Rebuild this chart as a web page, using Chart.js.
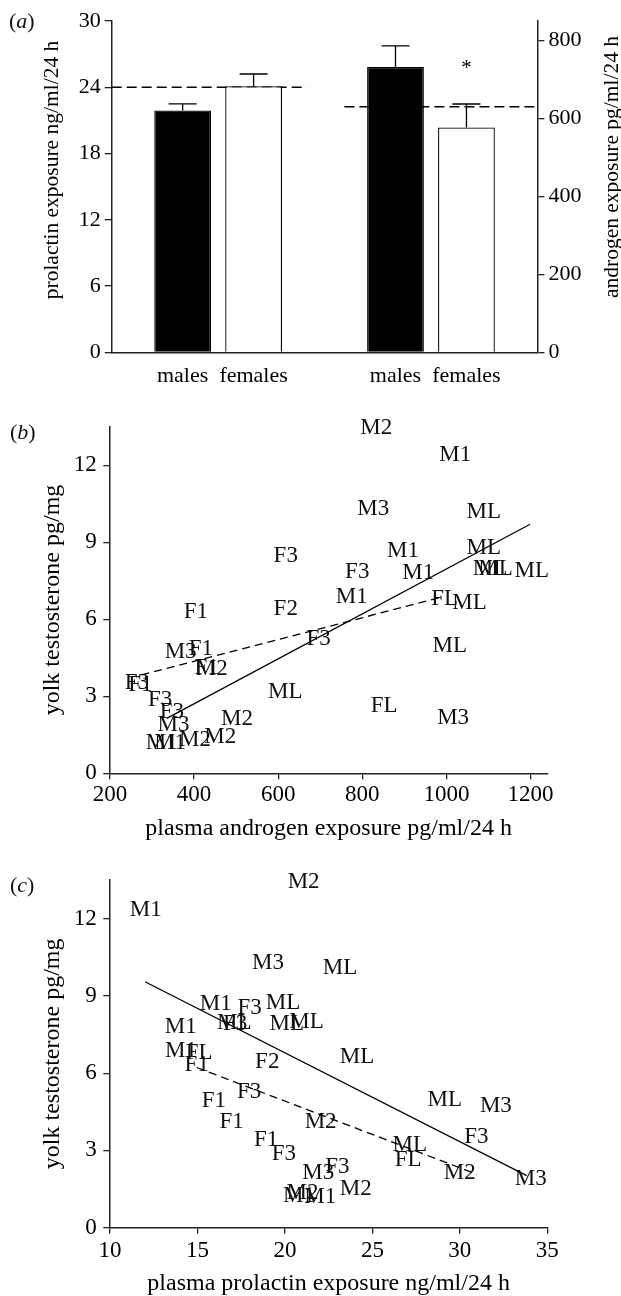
<!DOCTYPE html>
<html><head><meta charset="utf-8">
<script src="https://cdn.jsdelivr.net/npm/chart.js@4.4.1/dist/chart.umd.min.js"></script>
<style>
html,body{margin:0;padding:0;background:#fff;width:621px;height:1296px;overflow:hidden;position:relative;}
canvas{position:absolute;left:0;}
.pl{position:absolute;font-family:'Liberation Serif','Times New Roman',serif;font-size:22px;color:#111;line-height:1;white-space:nowrap;}
</style></head><body>
<canvas id="ca" width="621" height="400" style="top:0px"></canvas>
<canvas id="cb" width="621" height="450" style="top:400px"></canvas>
<canvas id="cc" width="621" height="446" style="top:850px"></canvas>
<div class="pl" style="left:9px;top:10px">(<i>a</i>)</div>
<div class="pl" style="left:10px;top:421px">(<i>b</i>)</div>
<div class="pl" style="left:10px;top:874px">(<i>c</i>)</div>
<script>
// ---------- Panel (a) data ----------
const aGroups = ['males', 'females', 'males', 'females'];
const aPos = [1, 2, 4, 5];
const prolactinMean = [21.9, 24.1];
const prolactinUpper = [22.5, 25.2];
const androgenMean = [732, 577];
const androgenUpper = [786, 637];
const prolactinRefX = [0, 2.75];
const prolactinRefY = [24, 24];
const androgenRefX = [3.28, 6];
const androgenRefY = [630, 630];
const prolactinTicks = [0, 6, 12, 18, 24, 30];
const androgenTicks = [0, 200, 400, 600, 800];
const starValue = [714];
const aLeftTitle = 'prolactin exposure ng/ml/24 h';
const aRightTitle = 'androgen exposure pg/ml/24 h';

// ---------- Panel (b) data ----------
const bLabels = ['M2','M1','M3','ML','M1','ML','F3','F3','M1','ML','ML','ML','M1','FL','ML','F2','F1','F3','ML','F1','M3','F1','M2','ML','F3','F1','F3','FL','F3','M3','M2','M3','M1','M1','M2','M2'];
const bX = [833,1021,826,1089,897,1089,618,788,933,1104,1117,1203,775,996,1055,618,404,696,1008,416,368,430,442,617,264,272,319,852,347,1016,502,351,323,343,402,462];
const bY = [13.44,12.40,10.30,10.16,8.66,8.77,8.48,7.86,7.79,7.95,7.95,7.90,6.86,6.79,6.62,6.39,6.30,5.22,4.96,4.85,4.74,4.10,4.08,3.18,3.51,3.45,2.86,2.62,2.40,2.14,2.10,1.88,1.17,1.17,1.30,1.43];
const bSolidX = [335, 1199];
const bSolidY = [2.14, 9.70];
const bDashX = [275, 984];
const bDashY = [3.83, 6.84];
const bXTicks = [200, 400, 600, 800, 1000, 1200];
const bXTitle = 'plasma androgen exposure pg/ml/24 h';

// ---------- Panel (c) data ----------
const cLabels = ['M2','M1','M3','ML','M1','F3','ML','ML','F3','ML','ML','M1','M1','FL','F1','F2','ML','F1','F3','F1','M2','F1','F3','M3','F3','M1','M2','M1','M2','ML','M3','F3','ML','FL','M2','M3'];
const cX = [21.07,12.04,19.03,23.15,16.05,17.98,19.89,17.10,17.15,20.11,21.24,14.05,14.06,15.10,14.96,18.99,24.12,15.94,17.95,16.95,22.04,18.93,19.94,21.90,23.00,20.80,21.00,22.02,24.05,29.14,32.06,30.95,27.14,27.04,30.00,34.05];
const cY = [13.43,12.35,10.28,10.10,8.67,8.54,8.73,7.95,7.90,7.93,8.00,7.81,6.86,6.80,6.31,6.44,6.64,4.93,5.27,4.11,4.11,3.39,2.88,2.13,2.37,1.25,1.36,1.19,1.49,4.95,4.72,3.53,3.21,2.63,2.11,1.88];
const cSolidX = [12.0, 33.82];
const cSolidY = [9.55, 2.02];
const cDashX = [14.96, 30.95];
const cDashY = [6.22, 2.08];
const cXTicks = [10, 15, 20, 25, 30, 35];
const cXTitle = 'plasma prolactin exposure ng/ml/24 h';

const yolkTicks = [0, 3, 6, 9, 12];
const yolkTitle = 'yolk testosterone pg/mg';

// ---------- common ----------
const FONT = "'Liberation Serif','Times New Roman',serif";
Chart.defaults.font.family = FONT;
Chart.defaults.color = '#000';
const AXIS = '#222';

const pts = (xs, ys) => xs.map((x, i) => ({x: x, y: ys[i]}));
const setTicks = arr => s => { s.ticks = arr.map(v => ({value: v})); };

const errorBars = {
  id: 'errorBars',
  afterDatasetsDraw(chart) {
    const ctx = chart.ctx;
    chart.data.datasets.forEach((ds, di) => {
      if (!ds.upper) return;
      const meta = chart.getDatasetMeta(di);
      const scale = chart.scales[ds.yAxisID];
      meta.data.forEach((el, i) => {
        const yTop = scale.getPixelForValue(ds.upper[i]);
        ctx.save();
        ctx.strokeStyle = '#000';
        ctx.lineWidth = 1.3;
        ctx.beginPath();
        ctx.moveTo(el.x, el.y);
        ctx.lineTo(el.x, yTop);
        ctx.moveTo(el.x - 14, yTop);
        ctx.lineTo(el.x + 14, yTop);
        ctx.stroke();
        ctx.restore();
      });
    });
  }
};

const aExtras = {
  id: 'aExtras',
  afterDraw(chart) {
    const ctx = chart.ctx;
    ctx.save();
    ctx.fillStyle = '#000';
    ctx.font = '21.5px ' + FONT;
    ctx.textAlign = 'center';
    ctx.textBaseline = 'middle';
    ctx.save(); ctx.translate(52, 170); ctx.rotate(-Math.PI / 2); ctx.fillText(aLeftTitle, 0, 0); ctx.restore();
    ctx.save(); ctx.translate(612, 167); ctx.rotate(-Math.PI / 2); ctx.fillText(aRightTitle, 0, 0); ctx.restore();
    // significance star above the female androgen bar
    const meta = chart.getDatasetMeta(1);
    const el = meta.data[1];
    ctx.font = '21px ' + FONT;
    ctx.textBaseline = 'alphabetic';
    ctx.fillText('*', el.x, chart.scales.y2.getPixelForValue(starValue[0]));
    ctx.restore();
  }
};

const textMarks = {
  id: 'textMarks',
  beforeDatasetsDraw(chart) {
    const ctx = chart.ctx;
    chart.data.datasets.forEach((ds, di) => {
      if (!ds.textLabels) return;
      const meta = chart.getDatasetMeta(di);
      ctx.save();
      ctx.fillStyle = '#111';
      ctx.font = '23px ' + FONT;
      ctx.textAlign = 'center';
      ctx.textBaseline = 'middle';
      meta.data.forEach((el, i) => ctx.fillText(ds.textLabels[i], el.x, el.y));
      ctx.restore();
    });
  }
};

const baseOpts = {
  responsive: false,
  animation: false,
  events: [],
  plugins: {legend: {display: false}, tooltip: {enabled: false}}
};

// ---------- Chart (a) ----------
new Chart(document.getElementById('ca'), {
  type: 'bar',
  data: {
    datasets: [
      {type: 'bar', yAxisID: 'y', data: pts(aPos.slice(0, 2), prolactinMean), upper: prolactinUpper,
       backgroundColor: ['#000', '#fff'], borderColor: '#000', borderWidth: 1.3,
       grouped: false, barPercentage: 1, categoryPercentage: 0.8},
      {type: 'bar', yAxisID: 'y2', data: pts(aPos.slice(2), androgenMean), upper: androgenUpper,
       backgroundColor: ['#000', '#fff'], borderColor: '#000', borderWidth: 1.3,
       grouped: false, barPercentage: 1, categoryPercentage: 0.8},
      {type: 'line', yAxisID: 'y', data: pts(prolactinRefX, prolactinRefY), borderColor: '#000',
       borderWidth: 1.3, borderDash: [10, 5], pointRadius: 0, fill: false},
      {type: 'line', yAxisID: 'y2', data: pts(androgenRefX, androgenRefY), borderColor: '#000',
       borderWidth: 1.3, borderDash: [10, 5], pointRadius: 0, fill: false}
    ]
  },
  options: Object.assign({}, baseOpts, {
    layout: {padding: {top: 21, left: 0, right: 0, bottom: 0}},
    scales: {
      x: {type: 'linear', min: 0, max: 6, offset: false,
          afterBuildTicks: setTicks(aPos),
          ticks: {callback: v => { const k = aPos.indexOf(v); return k >= 0 ? aGroups[k] : ''; },
                  font: {size: 22}, color: '#000', padding: 11, maxRotation: 0, autoSkip: false},
          grid: {display: false, drawTicks: false, offset: false},
          border: {display: true, color: AXIS, width: 1.5},
          afterFit: s => { s.height = 47.7; }},
      y: {position: 'left', min: 0, max: 30, afterBuildTicks: setTicks(prolactinTicks),
          ticks: {callback: v => String(v), font: {size: 22}, color: '#000', padding: 4},
          grid: {display: true, drawOnChartArea: false, drawTicks: true, tickLength: 7, color: AXIS, lineWidth: 1.3},
          border: {display: true, color: AXIS, width: 1.5},
          afterFit: s => { s.width = 111.7; }},
      y2: {position: 'right', min: 0, max: 850, afterBuildTicks: setTicks(androgenTicks),
          ticks: {callback: v => String(v), font: {size: 22}, color: '#000', padding: 4},
          grid: {display: true, drawOnChartArea: false, drawTicks: true, tickLength: 7, color: AXIS, lineWidth: 1.3},
          border: {display: true, color: AXIS, width: 1.5},
          afterFit: s => { s.width = 83.6; }}
    }
  }),
  plugins: [errorBars, aExtras]
});

// ---------- scatter panels ----------
function scatterPanel(id, labels, xs, ys, solidX, solidY, dashX, dashY, xMin, xMax, xTicks, xTitle, padTop, xHeight, titlePadBottom, tickPad) {
  new Chart(document.getElementById(id), {
    type: 'scatter',
    data: {
      datasets: [
        {data: pts(xs, ys), textLabels: labels, pointRadius: 0, showLine: false},
        {data: pts(solidX, solidY), showLine: true, borderColor: '#000', borderWidth: 1.3, pointRadius: 0},
        {data: pts(dashX, dashY), showLine: true, borderColor: '#000', borderWidth: 1.3, borderDash: [8, 5], pointRadius: 0}
      ]
    },
    options: Object.assign({}, baseOpts, {
      layout: {padding: {top: padTop, left: 0, right: 73.7, bottom: 0}},
      scales: {
        x: {type: 'linear', min: xMin, max: xMax, afterBuildTicks: setTicks(xTicks),
            ticks: {callback: v => String(v), font: {size: 23}, color: '#000', padding: tickPad, maxRotation: 0, autoSkip: false},
            grid: {display: true, drawOnChartArea: false, drawTicks: true, tickLength: 6, color: AXIS, lineWidth: 1.3},
            border: {display: true, color: AXIS, width: 1.5},
            title: {display: true, text: xTitle, font: {size: 24, lineHeight: 1}, color: '#000', padding: {top: 0, bottom: titlePadBottom}},
            afterFit: s => { s.height = xHeight; }},
        y: {type: 'linear', min: 0, max: 13.5, afterBuildTicks: setTicks(yolkTicks),
            ticks: {callback: v => String(v), font: {size: 23}, color: '#000', padding: 6.6},
            grid: {display: true, drawOnChartArea: false, drawTicks: true, tickLength: 6.7, color: AXIS, lineWidth: 1.3},
            border: {display: true, color: AXIS, width: 1.5},
            title: {display: true, text: yolkTitle, font: {size: 24}, color: '#000', padding: {top: 38.6, bottom: 0}},
            afterFit: s => { s.width = 110; }}
      }
    }),
    plugins: [textMarks]
  });
}

scatterPanel('cb', bLabels, bX, bY, bSolidX, bSolidY, bDashX, bDashY, 200, 1240, bXTicks, bXTitle, 26.7, 76.7, 9.5, 1.5);
scatterPanel('cc', cLabels, cX, cY, cSolidX, cSolidY, cDashX, cDashY, 10, 35, cXTicks, cXTitle, 30, 68.3, 0.5, 3.5);
</script>
</body></html>
